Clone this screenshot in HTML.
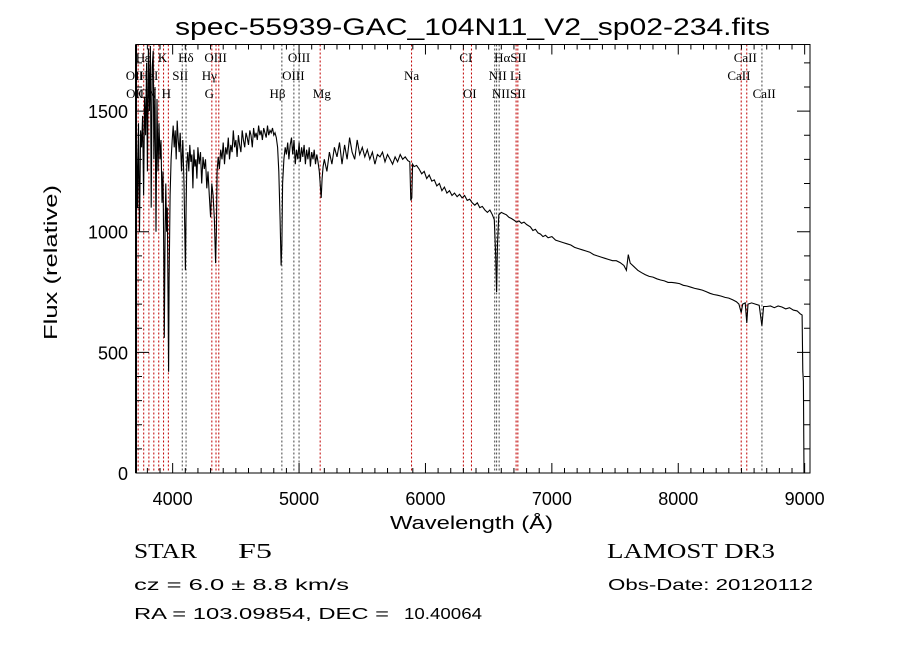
<!DOCTYPE html>
<html><head><meta charset="utf-8"><style>
html,body{margin:0;padding:0;background:#fff;}
svg{display:block;}
</style></head><body>
<svg id="chart" width="900" height="649" viewBox="0 0 900 649" xmlns="http://www.w3.org/2000/svg">
<rect x="0" y="0" width="900" height="649" fill="#fff"/>
<text x="175" y="35" font-family="Liberation Sans, sans-serif" font-size="24" textLength="595" lengthAdjust="spacingAndGlyphs">spec-55939-GAC_104N11_V2_sp02-234.fits</text>
<g id="lines"></g>
<g id="labels" font-family="Liberation Serif, serif" font-size="13"></g>
<g id="series"></g>
<g id="axes"></g>
<text x="390" y="529" font-family="Liberation Sans, sans-serif" font-size="18" textLength="163" lengthAdjust="spacingAndGlyphs">Wavelength (Å)</text>
<text transform="translate(57,340) rotate(-90)" font-family="Liberation Sans, sans-serif" font-size="18" textLength="155" lengthAdjust="spacingAndGlyphs">Flux (relative)</text>
<text x="134" y="558" font-family="Liberation Serif, serif" font-size="21" textLength="63" lengthAdjust="spacingAndGlyphs">STAR</text>
<text x="238" y="558" font-family="Liberation Serif, serif" font-size="21" textLength="34" lengthAdjust="spacingAndGlyphs">F5</text>
<text x="607" y="558" font-family="Liberation Serif, serif" font-size="21" textLength="168" lengthAdjust="spacingAndGlyphs">LAMOST DR3</text>
<text x="134" y="590" font-family="Liberation Sans, sans-serif" font-size="16" textLength="215" lengthAdjust="spacingAndGlyphs">cz = 6.0 ± 8.8 km/s</text>
<text x="608" y="590" font-family="Liberation Sans, sans-serif" font-size="16" textLength="205" lengthAdjust="spacingAndGlyphs">Obs-Date: 20120112</text>
<text x="134" y="619" font-family="Liberation Sans, sans-serif" font-size="16" textLength="255" lengthAdjust="spacingAndGlyphs">RA = 103.09854, DEC =</text>
<text x="404" y="619" font-family="Liberation Sans, sans-serif" font-size="16" textLength="78" lengthAdjust="spacingAndGlyphs">10.40064</text>
</svg>
<script>
const wavelengths = [3712,3714,3722,3730,3738,3746,3754,3762,3770,3778,3786,3794,3800,3808,3816,3824,3830,3838,3846,3852,3860,3868,3876,3884,3892,3900,3908,3916,3924,3930,3934,3940,3946,3952,3958,3964,3968,3972,3980,3988,3996,4004,4012,4020,4028,4036,4044,4052,4060,4070,4080,4090,4096,4101,4106,4112,4120,4128,4136,4144,4152,4160,4168,4176,4184,4192,4200,4210,4220,4230,4240,4250,4260,4270,4280,4290,4300,4310,4320,4330,4340,4346,4352,4360,4370,4380,4390,4400,4410,4420,4430,4440,4450,4460,4470,4480,4490,4500,4510,4520,4530,4540,4550,4560,4570,4580,4590,4600,4610,4620,4630,4640,4650,4660,4670,4680,4690,4700,4710,4720,4730,4740,4750,4760,4770,4780,4790,4800,4810,4820,4830,4840,4850,4858,4864,4870,4880,4890,4900,4910,4920,4930,4940,4950,4960,4970,4980,4990,5000,5010,5020,5030,5040,5050,5060,5070,5080,5090,5100,5110,5120,5130,5140,5150,5160,5170,5175,5182,5190,5200,5220,5240,5260,5280,5300,5320,5340,5360,5380,5400,5420,5440,5460,5480,5500,5520,5540,5560,5580,5600,5620,5640,5660,5680,5700,5720,5740,5760,5780,5800,5820,5840,5860,5876,5884,5892,5898,5910,5930,5950,5970,5990,6010,6030,6050,6070,6090,6110,6130,6150,6170,6190,6210,6230,6250,6270,6290,6310,6330,6350,6370,6390,6410,6430,6450,6470,6490,6510,6530,6545,6556,6563,6570,6580,6600,6620,6640,6660,6680,6700,6720,6740,6760,6780,6800,6830,6850,6870,6890,6910,6930,6950,6970,7000,7030,7060,7090,7120,7150,7180,7210,7240,7270,7300,7330,7360,7390,7420,7450,7480,7510,7540,7570,7590,7605,7620,7650,7680,7710,7740,7770,7800,7830,7860,7890,7920,7950,7980,8010,8040,8070,8100,8130,8160,8190,8220,8250,8280,8310,8340,8370,8400,8430,8460,8480,8498,8510,8530,8542,8552,8580,8610,8640,8662,8675,8700,8730,8760,8790,8820,8850,8880,8910,8940,8965,8980,8985,8990,8995];
const fluxes = [0,1380,1100,1450,1000,1420,1350,1480,1150,1560,1400,1700,1250,1760,1500,1770,1100,1680,1750,1300,1600,1000,1550,1250,1450,1300,1380,1120,1250,900,560,1000,1200,1000,1100,700,420,800,1150,1300,1380,1440,1350,1420,1300,1460,1380,1330,1410,1250,1380,1200,1000,840,1100,1280,1330,1250,1360,1290,1320,1180,1340,1270,1300,1220,1350,1280,1330,1200,1310,1260,1300,1180,1250,1150,1060,1200,1150,1050,870,1000,1250,1310,1260,1340,1300,1370,1280,1350,1320,1390,1300,1360,1330,1420,1350,1380,1310,1400,1360,1330,1420,1380,1350,1410,1390,1360,1420,1400,1350,1430,1390,1410,1380,1440,1400,1420,1380,1430,1410,1390,1440,1400,1420,1410,1430,1400,1410,1390,1350,1250,1050,860,950,1200,1300,1350,1320,1370,1300,1360,1390,1320,1380,1280,1340,1300,1370,1290,1350,1310,1360,1280,1340,1300,1350,1270,1330,1300,1340,1280,1320,1290,1250,1180,1140,1220,1270,1300,1250,1330,1280,1350,1310,1370,1280,1360,1300,1390,1330,1300,1380,1320,1350,1310,1340,1300,1330,1280,1320,1310,1330,1290,1320,1300,1280,1310,1290,1320,1300,1310,1295,1290,1130,1140,1280,1270,1275,1260,1240,1250,1220,1235,1210,1215,1190,1200,1170,1185,1160,1170,1150,1160,1145,1155,1140,1150,1130,1135,1120,1110,1120,1100,1105,1090,1080,1090,1070,1050,900,750,950,1070,1080,1075,1070,1060,1055,1048,1040,1045,1035,1040,1030,1020,1005,1010,995,990,980,985,975,980,965,960,955,950,945,935,930,925,920,915,905,900,895,890,885,880,880,872,860,840,905,870,855,840,830,822,815,812,805,800,796,790,790,788,785,778,775,770,765,762,758,752,745,740,737,733,728,725,718,710,700,665,700,705,622,700,705,700,695,610,690,690,692,685,692,688,680,685,675,672,660,655,420,380,0];
const xTickValues = [4000,5000,6000,7000,8000,9000];
const xTickLabels = ["4000","5000","6000","7000","8000","9000"];
const yTickValues = [0,500,1000,1500];
const yTickLabels = ["0","500","1000","1500"];
const lineWaves = [3727,3771,3812,3851,3890,3928,3966,4076,4106,4310,4343,4365,4864,4959,5000,5167,5890,6300,6364,6548,6563,6583,6717,6731,8498,8542,8662];
const lineColors = ["r","r","r","r","r","r","r","k","k","r","r","r","k","k","k","r","r","r","r","k","k","k","r","r","r","r","k"];
const labelTexts = ["H","ε","K","Hδ","OIII","OIII","CI","HαSII","CaII","OII","HeI","SII","Hγ","OIII","Na","NII Li","CaII","OIII","CN","H","G","Hβ","Mg","OI","NIISII","CaII"];
const labelWaves = [3745,3800,3920,4105,4340,5000,6320,6670,8530,3700,3810,4060,4290,4955,5890,6630,8480,3720,3800,3950,4290,4830,5180,6350,6660,8680];
const labelRows = [0,0,0,0,0,0,0,0,0,1,1,1,1,1,1,1,1,2,2,2,2,2,2,2,2,2];

const L=136,R=810,T=44.5,B=473;
const xMin=3710,xMax=3710+(R-L)/0.1264;
const yMin=0,yMax=1776;
const xs=v=>L+(v-xMin)/(xMax-xMin)*(R-L);
const ys=v=>B-(v-yMin)/(yMax-yMin)*(B-T);
const NS="http://www.w3.org/2000/svg";
function mk(tag,attrs,parent){const e=document.createElementNS(NS,tag);for(const k in attrs)e.setAttribute(k,attrs[k]);parent.appendChild(e);return e;}

const gl=document.getElementById('lines');
lineWaves.forEach((w,i)=>{
  const ln=mk('line',{x1:xs(w),x2:xs(w),y1:T,y2:B,stroke:lineColors[i]==='r'?'#c00000':'#444','stroke-width':1,'stroke-dasharray':'2,2'},gl);
  
  
});
const glab=document.getElementById('labels');
labelTexts.forEach((t,i)=>{
  const tx=mk('text',{x:xs(labelWaves[i]),y:62+labelRows[i]*18,'text-anchor':'middle'},glab);
  tx.textContent=t;
  
  
});
const gs=document.getElementById('series');
const pts=wavelengths.map((w,i)=>xs(w).toFixed(1)+','+ys(Math.min(fluxes[i],yMax)).toFixed(1)).join(' ');
const pl=mk('polyline',{points:pts,fill:'none',stroke:'#000','stroke-width':1.1,'stroke-linejoin':'miter'},gs);



const ga=document.getElementById('axes');
const fr=mk('rect',{x:L,y:T,width:R-L,height:B-T,fill:'none',stroke:'#000','stroke-width':1},ga);


mk('line',{x1:L,x2:L,y1:T,y2:B,stroke:'#000','stroke-width':2},ga);
let d='';
for(let v=3800;v<=xMax;v+=100){const x=xs(v);const len=(v%1000===0)?10:5;d+=`M${x},${B}v${-len}M${x},${T}v${len}`;}
for(let v=0;v<=yMax;v+=100){const y=ys(v);const len=(v%500===0)?13:6;d+=`M${L},${y}h${len}M${R},${y}h${-len}`;}
const tk=mk('path',{d:d,stroke:'#000','stroke-width':1,fill:'none'},ga);


xTickValues.forEach((v,i)=>{
  const t=mk('text',{x:xs(v),y:505,'text-anchor':'middle','font-family':'Liberation Sans, sans-serif','font-size':18},ga);
  t.textContent=xTickLabels[i];
  
  
});
yTickValues.forEach((v,i)=>{
  const t=mk('text',{x:128,y:ys(v)+7,'text-anchor':'end','font-family':'Liberation Sans, sans-serif','font-size':18},ga);
  t.textContent=yTickLabels[i];
  
  
});
</script>
</body></html>
